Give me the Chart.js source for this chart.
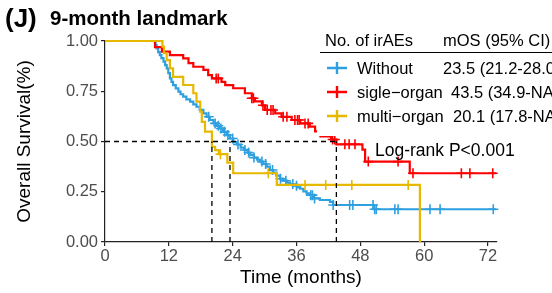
<!DOCTYPE html>
<html>
<head>
<meta charset="utf-8">
<script src="https://cdn.jsdelivr.net/npm/chart.js@4.4.0/dist/chart.umd.min.js"></script>
<style>
  html, body { margin: 0; padding: 0; background: #fff; }
  #wrap { width: 552px; height: 293px; }
</style>
</head>
<body>
<div id="wrap"><canvas id="km" width="552" height="293"></canvas></div>
<script>
// axis ticks
const xTicks = [0, 12, 24, 36, 48, 60, 72];
const yTicks = [0, 0.25, 0.5, 0.75, 1];
const lastFollowUp = 73.5;

// Without irAEs
const withoutTime = [9.5, 9.7, 10.0, 10.3, 10.6, 11.0, 11.3, 11.6, 11.9, 12.2, 12.5, 12.8, 13.3, 13.8, 14.2, 14.7, 15.3, 16.0, 16.6, 17.2, 17.8, 18.5, 19.1, 19.7, 20.4, 21.0, 21.6, 22.2, 22.9, 23.5, 24.1, 24.8, 25.5, 26.2, 26.8, 27.3, 28.0, 28.6, 29.1, 29.7, 30.4, 31.0, 31.6, 32.2, 32.9, 33.5, 34.2, 34.8, 35.4, 36.1, 36.7, 37.3, 37.9, 38.5, 39.2, 40.4, 42.3, 42.9, 50.5];
const withoutSurv = [0.98, 0.963, 0.945, 0.93, 0.915, 0.897, 0.88, 0.864, 0.84, 0.814, 0.797, 0.78, 0.764, 0.748, 0.735, 0.723, 0.71, 0.698, 0.685, 0.673, 0.657, 0.64, 0.623, 0.607, 0.59, 0.578, 0.565, 0.548, 0.532, 0.515, 0.497, 0.485, 0.47, 0.458, 0.445, 0.433, 0.42, 0.41, 0.4, 0.388, 0.375, 0.358, 0.345, 0.33, 0.315, 0.305, 0.295, 0.288, 0.28, 0.272, 0.265, 0.252, 0.242, 0.233, 0.217, 0.209, 0.2, 0.184, 0.163];
const withoutCensor = [19.5, 20.7, 21.3, 21.8, 22.5, 23.1, 24.0, 25.0, 26.3, 27.0, 28.0, 29.5, 30.2, 31.5, 33.0, 34.0, 35.3, 36.0, 38.7, 39.0, 39.4, 42.9, 46.0, 46.6, 50.4, 50.7, 51.0, 54.5, 55.1, 61.1, 63.0, 73.0];

// single-organ irAEs
const singleTime = [9.4, 10.7, 12.2, 14.7, 15.7, 16.6, 18.5, 19.4, 20.1, 21.9, 22.6, 24.1, 26.3, 27.6, 28.2, 29.5, 30.1, 32.0, 33.2, 35.1, 36.7, 38.5, 39.5, 40.5, 42.5, 43.5, 48.4, 48.9, 57.3];
const singleSurv = [0.97, 0.947, 0.93, 0.914, 0.89, 0.872, 0.856, 0.83, 0.814, 0.797, 0.78, 0.765, 0.74, 0.715, 0.70, 0.68, 0.657, 0.64, 0.623, 0.607, 0.59, 0.574, 0.55, 0.525, 0.51, 0.486, 0.46, 0.40, 0.342];
const singleCensor = [20.9, 21.3, 27.6, 27.9, 29.7, 30.5, 31.2, 31.6, 33.5, 34.2, 35.7, 36.2, 36.5, 37.6, 38.2, 42.8, 43.2, 45.1, 45.9, 47.0, 49.5, 55.1, 57.9, 67.0, 68.6, 72.9];

// multi-organ irAEs
const multiTime = [10.8, 11.1, 11.6, 12.2, 12.8, 14.7, 16.6, 17.2, 17.9, 18.2, 18.8, 20.1, 20.7, 21.4, 23.0, 24.1, 32.3, 59.2];
const multiSurv = [0.972, 0.939, 0.905, 0.864, 0.822, 0.781, 0.74, 0.698, 0.648, 0.598, 0.549, 0.474, 0.457, 0.437, 0.395, 0.342, 0.284, 0];
const multiCensor = [21.7, 30.7, 37.6, 41.5, 46.4, 57.0];

const medians = [20.1, 23.5, 43.5];
const groupNames = ['Without', 'sigle\u2212organ', 'multi\u2212organ'];
const mosLabels = ['23.5 (21.2-28.0)', '43.5 (34.9-NA)', '20.1 (17.8-NA)'];
const colors = ['#2E9FDF', '#FF0000', '#E7B800'];

const FONT = '"Liberation Sans", Arial, Helvetica, sans-serif';
Chart.defaults.font.family = FONT;

function stepPoints(times, surv) {
  const pts = [{ x: 0, y: 1 }];
  times.forEach((t, i) => pts.push({ x: t, y: surv[i] }));
  const last = surv[surv.length - 1];
  if (last > 0) pts.push({ x: lastFollowUp, y: last });
  return pts;
}

function survAt(times, surv, t) {
  let s = 1;
  for (let i = 0; i < times.length; i++) if (times[i] <= t) s = surv[i];
  return s;
}

function censorPoints(times, surv, cens) {
  return cens.map(t => ({ x: t, y: survAt(times, surv, t) }));
}

const groups = [
  [withoutTime, withoutSurv, withoutCensor],
  [singleTime, singleSurv, singleCensor],
  [multiTime, multiSurv, multiCensor]
];
const drawOrder = [3, 2, 1];

const datasets = [];
groups.forEach((g, i) => {
  datasets.push({
    data: stepPoints(g[0], g[1]),
    stepped: 'before',
    borderColor: colors[i],
    borderWidth: 2.2,
    pointRadius: 0,
    fill: false,
    clip: false,
    order: drawOrder[i]
  });
  datasets.push({
    data: censorPoints(g[0], g[1], g[2]),
    showLine: false,
    pointStyle: 'cross',
    pointRadius: 5,
    pointBorderWidth: 1.6,
    pointBorderColor: colors[i],
    pointBackgroundColor: colors[i],
    clip: false,
    order: drawOrder[i]
  });
});

// median reference lines
const dashStyle = { borderColor: '#000', borderWidth: 1.3, borderDash: [5, 4], pointRadius: 0, fill: false, order: 0 };
datasets.push({ ...dashStyle, data: [{ x: 0, y: 0.5 }, { x: Math.max(...medians), y: 0.5 }] });
medians.forEach(m => {
  datasets.push({ ...dashStyle, data: [{ x: m, y: 0 }, { x: m, y: 0.5 }] });
});

const annotations = {
  id: 'annotations',
  afterDraw(chart) {
    const ctx = chart.ctx;
    ctx.save();
    // title
    ctx.fillStyle = '#000';
    ctx.textBaseline = 'alphabetic';
    ctx.font = 'bold 26px ' + FONT;
    ctx.fillText('(J)', 5, 27);
    ctx.font = 'bold 20.5px ' + FONT;
    ctx.fillText('9-month landmark', 50, 25);

    // axis titles
    ctx.font = '19px ' + FONT;
    ctx.textAlign = 'center';
    ctx.fillText('Time (months)', (chart.chartArea.left + chart.chartArea.right) / 2, 283);
    ctx.save();
    ctx.translate(30, (chart.chartArea.top + chart.chartArea.bottom) / 2);
    ctx.rotate(-Math.PI / 2);
    ctx.fillText('Overall Survival(%)', 0, 0);
    ctx.restore();

    // legend box
    ctx.fillStyle = '#fff';
    ctx.fillRect(317, 26, 235, 110);
    ctx.fillStyle = '#000';
    ctx.textAlign = 'left';
    ctx.font = '16.5px ' + FONT;
    ctx.fillText('No. of irAEs', 325, 46);
    ctx.fillText('mOS (95% CI)', 443, 46);
    ctx.strokeStyle = '#000';
    ctx.lineWidth = 1.2;
    ctx.beginPath();
    ctx.moveTo(320, 52.5);
    ctx.lineTo(552, 52.5);
    ctx.stroke();
    const valueX = [443, 451, 453];
    groupNames.forEach((name, i) => {
      const cy = 68 + i * 24;
      ctx.strokeStyle = colors[i];
      ctx.lineWidth = 2.4;
      ctx.beginPath();
      ctx.moveTo(327, cy); ctx.lineTo(347, cy);
      ctx.moveTo(337, cy - 6); ctx.lineTo(337, cy + 6);
      ctx.stroke();
      ctx.fillStyle = '#000';
      ctx.fillText(name, 357, cy + 6);
      ctx.fillText(mosLabels[i], valueX[i], cy + 6);
    });

    ctx.font = '17.5px ' + FONT;
    ctx.fillText('Log-rank P<0.001', 375, 156);
    ctx.restore();
  }
};

new Chart(document.getElementById('km'), {
  type: 'line',
  data: { datasets },
  options: {
    responsive: false,
    animation: false,
    layout: { padding: { left: 0, top: 41, right: 55, bottom: 0 } },
    plugins: { legend: { display: false }, tooltip: { enabled: false } },
    scales: {
      x: {
        type: 'linear',
        min: 0,
        max: 73.7,
        afterFit(scale) { scale.height = 51; },
        afterBuildTicks(scale) { scale.ticks = xTicks.map(v => ({ value: v })); },
        grid: { display: true, drawOnChartArea: false, drawTicks: true, tickLength: 4, color: '#222', lineWidth: 1.2 },
        border: { display: true, color: '#222', width: 1.2 },
        ticks: { color: '#4D4D4D', font: { size: 16.5 }, padding: 1, maxRotation: 0 }
      },
      y: {
        type: 'linear',
        min: 0,
        max: 1,
        afterFit(scale) { scale.width = 105; },
        afterBuildTicks(scale) { scale.ticks = yTicks.map(v => ({ value: v })); },
        grid: { display: true, drawOnChartArea: false, drawTicks: true, tickLength: 4, color: '#222', lineWidth: 1.2 },
        border: { display: true, color: '#222', width: 1.2 },
        ticks: { color: '#4D4D4D', font: { size: 16.5 }, padding: 3, callback: v => v.toFixed(2) }
      }
    }
  },
  plugins: [annotations]
});
</script>
</body>
</html>
